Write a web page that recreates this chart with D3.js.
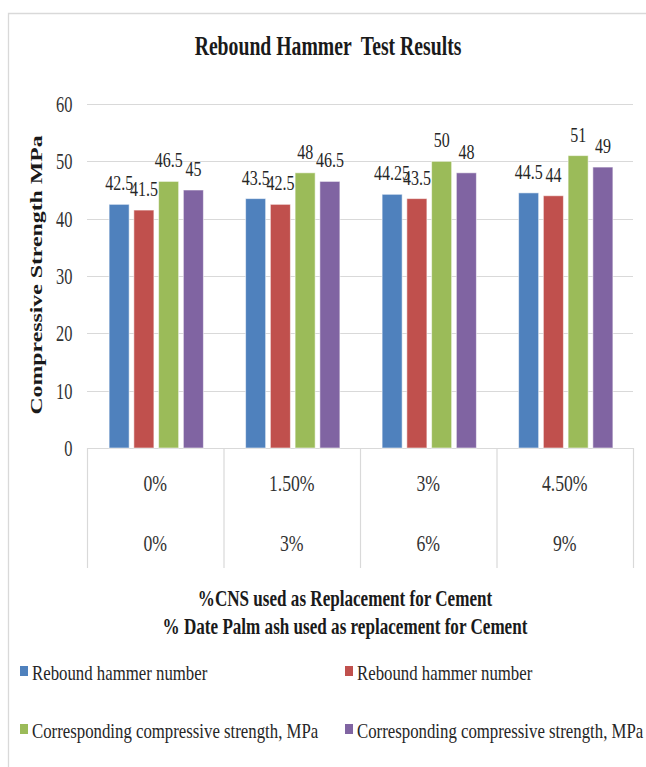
<!DOCTYPE html>
<html>
<head>
<meta charset="utf-8">
<script src="https://cdn.jsdelivr.net/npm/d3@7"></script>
<style>
  html, body { margin: 0; padding: 0; background: #fff; }
  svg { display: block; }
  text { font-family: "Liberation Serif", "Times New Roman", serif; fill: #1a1a1a; }
</style>
</head>
<body>
<svg id="chart" width="646" height="767"></svg>
<script>
// ---- data ----
const cnsLevels = ["0%", "1.50%", "3%", "4.50%"];
const ashLevels = ["0%", "3%", "6%", "9%"];
const seriesNames = [
  "Rebound hammer number",
  "Rebound hammer number",
  "Corresponding compressive strength, MPa",
  "Corresponding compressive strength, MPa"
];
const seriesColors = ["#4F81BD", "#C0504D", "#9BBB59", "#8064A2"];
const reboundA = [42.5, 43.5, 44.25, 44.5];
const reboundB = [41.5, 42.5, 43.5, 44];
const strengthA = [46.5, 48, 50, 51];
const strengthB = [45, 46.5, 48, 49];
const yTicks = [0, 10, 20, 30, 40, 50, 60];

const seriesValues = [reboundA, reboundB, strengthA, strengthB];

// ---- layout ----
const svg = d3.select("#chart");
const plot = { left: 87, right: 633, top: 104, bottom: 448 };
const gridColor = "#d9d9d9";

// outer chart frame
svg.append("path")
  .attr("d", "M8.5,767 L8.5,13.5 L646,13.5")
  .attr("fill", "none").attr("stroke", gridColor).attr("stroke-width", 1.3);

// helper for the narrow serif lettering
function label(parent, x, y, str, opt) {
  const o = Object.assign({ size: 20, weight: "normal", anchor: "middle", sx: 0.8, rot: 0 }, opt);
  return parent.append("text")
    .attr("transform", `translate(${x},${y}) scale(${o.sx},1)` + (o.rot ? ` rotate(${o.rot})` : ""))
    .attr("text-anchor", o.anchor)
    .attr("font-size", o.size)
    .attr("font-weight", o.weight)
    .text(str);
}

const y = d3.scaleLinear().domain([0, 60]).range([plot.bottom, plot.top]);
const x0 = d3.scaleBand().domain(cnsLevels).range([plot.left, plot.right]).paddingInner(0).paddingOuter(0);
const groupWidth = 94.3;
const x1 = d3.scaleBand().domain(d3.range(4)).range([0, groupWidth]).paddingInner(0.19).paddingOuter(0);
const groupOffset = (x0.bandwidth() - groupWidth) / 2 + 1;

// gridlines
svg.append("g").selectAll("line").data(yTicks.filter(t => t > 0)).join("line")
  .attr("x1", plot.left).attr("x2", plot.right)
  .attr("y1", d => Math.round(y(d)) + 0.5).attr("y2", d => Math.round(y(d)) + 0.5)
  .attr("stroke", gridColor).attr("stroke-width", 1.2);

// y tick labels
yTicks.forEach(t => {
  label(svg, 72.5, y(t) + 8, String(t), { size: 23.5, anchor: "end", sx: 0.7 }).style("fill", "#333");
});

// category axis: baseline and multi-level separators
svg.append("line")
  .attr("x1", plot.left).attr("x2", plot.right)
  .attr("y1", plot.bottom + 0.5).attr("y2", plot.bottom + 0.5)
  .attr("stroke", gridColor).attr("stroke-width", 1.2);
const seps = cnsLevels.map(c => x0(c)).concat([plot.right]);
svg.append("g").selectAll("line").data(seps).join("line")
  .attr("x1", d => d + 0.5).attr("x2", d => d + 0.5)
  .attr("y1", plot.bottom).attr("y2", 568)
  .attr("stroke", gridColor).attr("stroke-width", 1.2);

cnsLevels.forEach((c, i) => {
  const cx = x0(c) + x0.bandwidth() / 2;
  label(svg, cx, 491, c, { size: 23, sx: 0.77 }).style("fill", "#333");
  label(svg, cx, 551, ashLevels[i], { size: 23, sx: 0.77 }).style("fill", "#333");
});

// bars
const groups = svg.append("g").selectAll("g").data(cnsLevels).join("g")
  .attr("transform", c => `translate(${x0(c) + groupOffset},0)`);

groups.each(function (c, ci) {
  const g = d3.select(this);
  seriesValues.forEach((vals, si) => {
    g.append("rect")
      .attr("x", x1(si))
      .attr("y", y(vals[ci]))
      .attr("width", x1.bandwidth())
      .attr("height", y(0) - y(vals[ci]))
      .attr("fill", seriesColors[si])
      .attr("stroke", "#ffffff").attr("stroke-opacity", 0.55).attr("stroke-width", 1);
  });
  seriesValues.forEach((vals, si) => {
    label(g, x1(si) + x1.bandwidth() / 2, y(vals[ci]) - 14, String(vals[ci]), { size: 20, sx: 0.8 })
      .style("fill", "#262626");
  });
});

// titles
label(svg, 328, 55, "Rebound Hammer  Test Results", { size: 27, weight: "bold", sx: 0.73 }).style("white-space", "pre");
label(svg, 42, 275, "Compressive Strength MPa", { size: 23.8, weight: "bold", sx: 0.72, rot: -90 });
label(svg, 345, 606, "%CNS used as Replacement for Cement", { size: 22.5, weight: "bold", sx: 0.76 });
label(svg, 345, 634, "% Date Palm ash used as replacement for Cement", { size: 22.5, weight: "bold", sx: 0.76 });

// legend
const legendPos = [[20, 680], [345, 680], [20, 738], [345, 738]];
seriesNames.forEach((name, i) => {
  const [lx, ly] = legendPos[i];
  svg.append("rect").attr("x", lx).attr("y", ly - 14).attr("width", 8).attr("height", 10)
    .attr("fill", seriesColors[i]);
  label(svg, lx + 12, ly, name, { size: 21, anchor: "start", sx: 0.8 }).style("fill", "#262626");
});
</script>
</body>
</html>
